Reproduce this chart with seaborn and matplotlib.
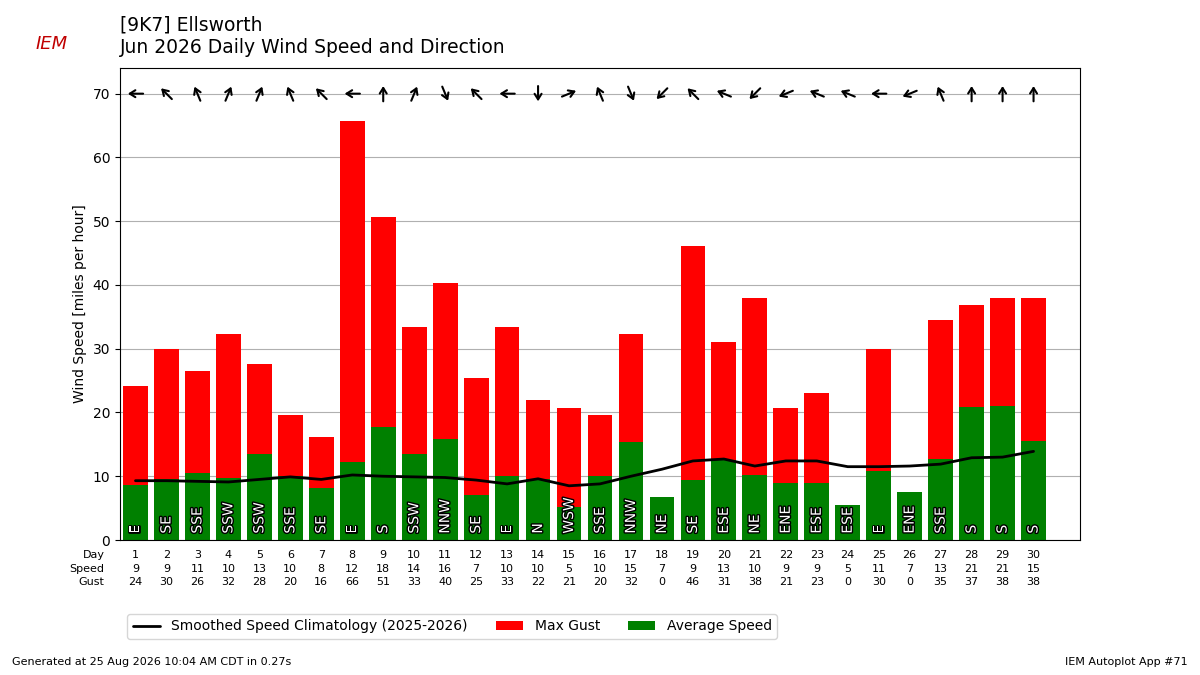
import matplotlib
matplotlib.use('Agg')
import matplotlib.pyplot as plt
import matplotlib.patheffects as pe
import matplotlib.transforms as mtrans
import numpy as np
import pandas as pd
import seaborn as sns

# data
days = list(range(1, 31))
speed_lbl = [9, 9, 11, 10, 13, 10, 8, 12, 18, 14, 16, 7, 10, 10, 5, 10, 15, 7, 9, 13,
             10, 9, 9, 5, 11, 7, 13, 21, 21, 15]
gust_lbl = [24, 30, 26, 32, 28, 20, 16, 66, 51, 33, 40, 25, 33, 22, 21, 20, 32, 0, 46, 31,
            38, 21, 23, 0, 30, 0, 35, 37, 38, 38]
avg_speed = [8.7, 9.5, 10.5, 9.8, 13.5, 10.0, 8.2, 12.3, 17.7, 13.5, 15.8, 7.0, 10.0, 9.5, 5.2,
             10.0, 15.3, 6.8, 9.4, 12.5, 10.2, 8.9, 8.9, 5.5, 10.8, 7.5, 12.7, 20.8, 21.0, 15.5]
max_gust = [24.2, 29.9, 26.5, 32.3, 27.6, 19.6, 16.2, 65.7, 50.6, 33.4, 40.3, 25.4, 33.4, 22.0, 20.7,
            19.6, 32.3, 0, 46.1, 31.1, 38.0, 20.7, 23.0, 0, 29.9, 0, 34.5, 36.9, 38.0, 38.0]
clim = [9.3, 9.3, 9.2, 9.1, 9.5, 9.9, 9.5, 10.2, 10.0, 9.9, 9.8, 9.4, 8.8, 9.6, 8.5,
        8.8, 10.0, 11.1, 12.4, 12.7, 11.6, 12.4, 12.4, 11.5, 11.5, 11.6, 11.9, 12.9, 13.0, 13.9]
dirs = ['E', 'SE', 'SSE', 'SSW', 'SSW', 'SSE', 'SE', 'E', 'S', 'SSW', 'NNW', 'SE', 'E', 'N', 'WSW',
        'SSE', 'NNW', 'NE', 'SE', 'ESE', 'NE', 'ENE', 'ESE', 'ESE', 'E', 'ENE', 'SSE', 'S', 'S', 'S']
compass = ['N', 'NNE', 'NE', 'ENE', 'E', 'ESE', 'SE', 'SSE', 'S', 'SSW', 'SW', 'WSW',
           'W', 'WNW', 'NW', 'NNW']

df = pd.DataFrame({'day': days, 'speed': avg_speed, 'gust': max_gust, 'clim': clim})

sns.set_style('white')
plt.rcParams['font.family'] = ['DejaVu Sans']
plt.rcParams['text.color'] = 'k'
plt.rcParams['axes.labelcolor'] = 'k'
plt.rcParams['ytick.color'] = 'k'
fig = plt.figure(figsize=(12, 6.75), dpi=100)
ax = fig.add_axes([0.1, 0.2, 0.8, 0.699])

ax.bar(df.day, df.gust, width=0.8, color='r', lw=0, label='Max Gust', zorder=2)
ax.bar(df.day, df.speed, width=0.8, color='g', lw=0, label='Average Speed', zorder=2)
sns.lineplot(x='day', y='clim', data=df, color='k', lw=2, ax=ax, zorder=3,
             label='Smoothed Speed Climatology (2025-2026)')

# direction labels in bars and arrows along the top
for d, lab in zip(days, dirs):
    ax.text(d, 1, lab, rotation=90, ha='center', va='bottom', color='white', fontsize=10,
            path_effects=[pe.withStroke(linewidth=2, foreground='k')], zorder=4)
    deg = compass.index(lab) * 22.5
    # arrow points where the wind blows to
    dx = -np.sin(np.radians(deg)) * 5.5
    dy = -np.cos(np.radians(deg)) * 5.5
    tip = mtrans.offset_copy(ax.transData, fig=fig, x=dx, y=dy, units='points')
    tail = mtrans.offset_copy(ax.transData, fig=fig, x=-dx, y=-dy, units='points')
    ax.annotate('', xy=(d, 70), xycoords=tip, xytext=(d, 70), textcoords=tail,
                arrowprops=dict(arrowstyle='->,head_length=0.4,head_width=0.25',
                                color='k', lw=1.5, shrinkA=0, shrinkB=0), zorder=5)

ax.set_xlim(0.5, 31.5)
ax.set_ylim(0, 74)
ax.set_yticks(range(0, 80, 10))
ax.yaxis.grid(True, color='#b0b0b0', zorder=0)
ax.set_xticks([])
ax.set_xlabel('')
ax.set_ylabel('Wind Speed [miles per hour]')
ax.tick_params(axis='y', left=True, labelsize=10)
for s in ax.spines.values():
    s.set_color('k')

# table below axes
tr = ax.get_xaxis_transform()
for y, name, vals in [(-0.032, 'Day', days), (-0.061, 'Speed', speed_lbl), (-0.089, 'Gust', gust_lbl)]:
    ax.text(0.0, y, name, transform=tr, ha='right', va='center', fontsize=8)
    for d, v in zip(days, vals):
        ax.text(d, y, str(v), transform=tr, ha='center', va='center', fontsize=8)

ax.legend(loc='upper left', bbox_to_anchor=(0.0, -0.142), ncol=3, fontsize=10, frameon=True)

fig.text(0.1, 0.963, '[9K7] Ellsworth', fontsize=13.5, va='center')
fig.text(0.1, 0.929, 'Jun 2026 Daily Wind Speed and Direction', fontsize=13.5, va='center')
fig.text(0.03, 0.935, 'IEM', fontsize=13, color='#c00000', style='italic', va='center')
fig.text(0.01, 0.015, 'Generated at 25 Aug 2026 10:04 AM CDT in 0.27s', fontsize=8)
fig.text(0.99, 0.015, 'IEM Autoplot App #71', fontsize=8, ha='right')

fig.savefig('out.png', dpi=100)
